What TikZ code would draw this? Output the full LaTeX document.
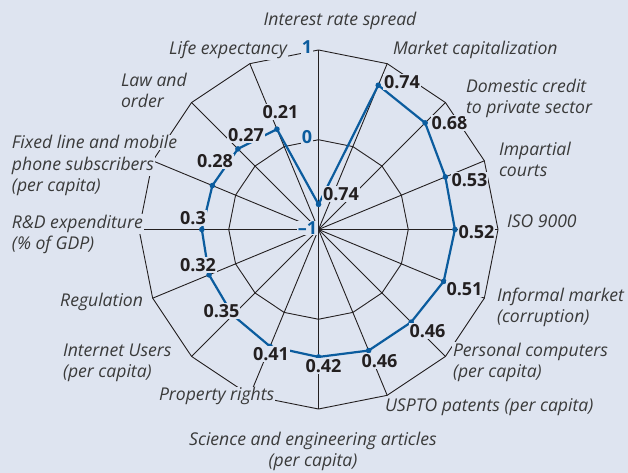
\documentclass[tikz,border=0pt]{standalone}
\usepackage{fontspec}
\setmainfont{Open Sans}
\usetikzlibrary{calc}
\definecolor{bg}{HTML}{DEE4F0}
\definecolor{dblue}{HTML}{0B5C9E}
\definecolor{txt}{HTML}{3A3A3A}
\definecolor{numc}{HTML}{231F20}
\newcommand{\lnbox}[1]{{\setlength{\fboxsep}{0.8pt}\colorbox{bg}{#1}}}
\begin{document}
\begin{tikzpicture}[x=1pt,y=1pt,
  lab/.style={font=\itshape\fontsize{17.6}{21.5}\selectfont, text=txt, fill=bg, inner sep=0.8pt, align=left},
  mlab/.style={font=\itshape\fontsize{17.6}{21.5}\selectfont, text=txt, inner sep=0pt, align=left},
  mlabc/.style={mlab, align=center},
  val/.style={font=\bfseries\fontsize{18}{20}\selectfont, text=numc, fill=bg, inner sep=1pt},
  axv/.style={font=\bfseries\fontsize{18}{20}\selectfont, text=dblue, fill=bg, inner sep=1pt},
  gridline/.style={numc, line width=0.9pt},
  series/.style={dblue, line width=2.2pt},
  dot/.style={fill=dblue}]
\fill[bg] (0,0) rectangle (628,473);
\useasboundingbox (0,0) rectangle (628,473);
\coordinate (O) at (318.5,243.5);
\foreach \k in {0,...,15} {
  \coordinate (v\k) at ($(O)+({90-22.5*\k}:179.5)$);
  \coordinate (w\k) at ($(O)+({90-22.5*\k}:89.75)$);
}
% grid
\draw[gridline] (v0) \foreach \k in {1,...,15} {-- (v\k)} -- cycle;
\draw[gridline] (w0) \foreach \k in {1,...,15} {-- (w\k)} -- cycle;
\foreach \k in {0,...,15} \draw[gridline] (O) -- (v\k);
% data
\foreach \k/\v in {0/-0.72,1/0.74,2/0.68,3/0.53,4/0.52,5/0.51,6/0.46,7/0.46,8/0.42,9/0.41,10/0.35,11/0.32,12/0.3,13/0.28,14/0.27,15/0.21}
  \coordinate (p\k) at ($(O)+({90-22.5*\k}:{89.75*(1+\v)})$);
\draw[series] (p0) \foreach \k in {1,...,15} {-- (p\k)} -- cycle;
\foreach \k in {0,...,15} \fill[dot] (p\k) circle (2.8pt);
% value labels
\node[val] (n1)  at (402,391) {0.74};
\node[val] (n0)  at (341,279) {0.74};
\node[val] (n2)  at (449.5,350) {0.68};
\node[val] (n3)  at (469.5,293) {0.53};
\node[val] (n4)  at (476.5,241) {0.52};
\node[val] (n5)  at (464.5,184) {0.51};
\node[val] (n6)  at (427.5,142) {0.46};
\node[val] (n7)  at (379.5,112) {0.46};
\node[val] (n8)  at (323.5,107) {0.42};
\node[val] (n9)  at (271,119) {0.41};
\node[val] (n10) at (221.5,162) {0.35};
\node[val] (n11) at (198,208) {0.32};
\node[val] (n12) at (193,255) {0.3};
\node[val] (n13) at (215,311.5) {0.28};
\node[val] (n14) at (246,338) {0.27};
\node[val] (n15) at (280.5,361) {0.21};
% axis values
\node[axv] (a1) at (307,426) {1};
\node[axv] (a0) at (307,336) {0};
\node[axv] (am) at (307.5,245) {\textendash1};
% axis labels (base = baseline of the last line)
\node[lab, anchor=base] (L0) at (340,447) {Interest rate spread};
\node[lab, anchor=base west] (L1) at (392,418) {Market capitalization};
\node[mlab, anchor=base west] (L2) at (465,359) {\lnbox{Domestic credit}\\\lnbox{to private sector}};
\node[mlab, anchor=base west] (L3) at (498,296) {\lnbox{Impartial}\\\lnbox{courts}};
\node[lab, anchor=base west] (L4) at (506,245) {ISO 9000};
\node[mlab, anchor=base west] (L5) at (496,150) {\lnbox{Informal market}\\\lnbox{(corruption)}};
\node[mlab, anchor=base west] (L6) at (452,95) {\lnbox{Personal computers}\\\lnbox{(per capita)}};
\node[lab, anchor=base west] (L7) at (384,61) {USPTO patents (per capita)};
\node[mlabc, anchor=base] (L8) at (313,6) {\lnbox{Science and engineering articles}\\\lnbox{(per capita)}};
\node[lab, anchor=base west] (L9) at (158,72) {Property rights};
\node[mlab, anchor=base west] (L10) at (62,95) {\lnbox{Internet Users}\\\lnbox{(per capita)}};
\node[lab, anchor=base east] (L11) at (144,166) {Regulation};
\node[mlab, anchor=base west] (L12) at (11,223) {\lnbox{R\&D expenditure}\\\lnbox{(\% of GDP)}};
\node[mlab, anchor=base west] (L13) at (11,281) {\lnbox{Fixed line and mobile}\\\lnbox{phone subscribers}\\\lnbox{(per capita)}};
\node[mlab, anchor=base west] (L14) at (120,365) {\lnbox{Law and}\\\lnbox{order}};
\node[lab, anchor=base east] (L15) at (288,418) {Life expectancy};
\end{tikzpicture}
\end{document}
